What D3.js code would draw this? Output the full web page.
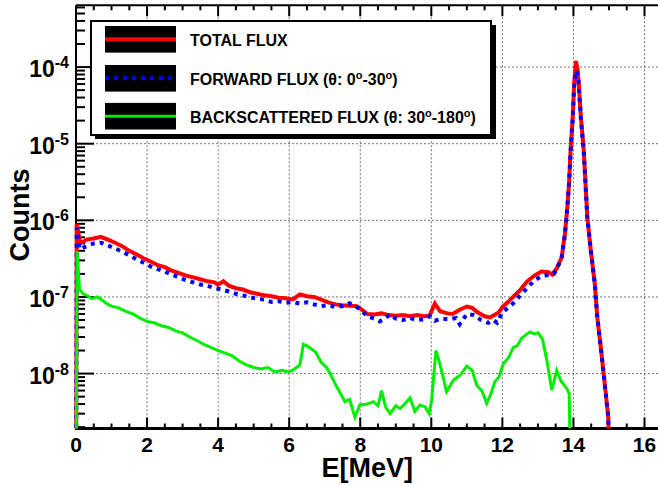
<!DOCTYPE html>
<html>
<head>
<meta charset="utf-8">
<script src="https://cdn.jsdelivr.net/npm/d3@7"></script>
<style>
  body { margin: 0; background: #fff; }
  text { font-family: "Liberation Sans", Arial, sans-serif; font-weight: bold; }
</style>
</head>
<body>
<div id="chart"></div>
<script>
// energy [MeV], counts
var totalFlux = [
  [0, 1e-10], [0.02, 9.0e-7], [0.12, 5.0e-7], [0.3, 5.6e-7], [0.5, 5.8e-7], [0.7, 6.1e-7],
  [0.9, 5.6e-7], [1.1, 5.1e-7], [1.3, 4.6e-7], [1.5, 4.0e-7], [1.7, 3.6e-7], [1.9, 3.2e-7],
  [2.1, 2.9e-7], [2.3, 2.6e-7], [2.5, 2.45e-7], [2.7, 2.2e-7], [2.9, 2.05e-7], [3.1, 1.9e-7],
  [3.3, 1.8e-7], [3.5, 1.7e-7], [3.7, 1.6e-7], [3.9, 1.55e-7], [4.0, 1.45e-7], [4.15, 1.6e-7],
  [4.3, 1.4e-7], [4.5, 1.3e-7], [4.7, 1.25e-7], [4.9, 1.15e-7], [5.1, 1.1e-7], [5.3, 1.05e-7],
  [5.5, 1.02e-7], [5.7, 9.8e-8], [5.9, 9.6e-8], [6.1, 9.3e-8], [6.3, 1.08e-7], [6.5, 1.02e-7],
  [6.7, 1.0e-7], [6.9, 9.2e-8], [7.1, 8.5e-8], [7.3, 8.0e-8], [7.5, 7.8e-8], [7.7, 7.7e-8],
  [7.9, 7.6e-8], [8.05, 6.8e-8], [8.2, 6.0e-8], [8.4, 5.9e-8], [8.6, 6.1e-8], [8.8, 5.8e-8],
  [9.0, 5.7e-8], [9.2, 5.8e-8], [9.4, 5.6e-8], [9.6, 5.8e-8], [9.8, 5.6e-8], [9.95, 5.7e-8],
  [10.1, 8.2e-8], [10.25, 6.5e-8], [10.45, 6.1e-8], [10.6, 6.0e-8], [10.8, 6.8e-8], [11.0, 7.5e-8],
  [11.15, 7.2e-8], [11.3, 6.3e-8], [11.5, 5.6e-8], [11.65, 5.4e-8], [11.8, 5.9e-8], [11.9, 6.3e-8],
  [12.0, 7.4e-8], [12.15, 8.5e-8], [12.3, 1.0e-7], [12.5, 1.23e-7], [12.7, 1.6e-7], [12.9, 1.9e-7],
  [13.1, 2.15e-7], [13.3, 2.1e-7], [13.4, 1.96e-7], [13.53, 2.36e-7], [13.67, 3.3e-7], [13.76, 6.7e-7],
  [13.83, 1.5e-6], [13.88, 3.3e-6], [13.92, 8.2e-6], [13.98, 2.2e-5], [14.02, 6.1e-5], [14.07, 1.2e-4],
  [14.12, 9.0e-5], [14.15, 6.1e-5], [14.21, 2.2e-5], [14.29, 8.2e-6], [14.34, 3.0e-6], [14.39, 1.1e-6],
  [14.49, 4.0e-7], [14.6, 1.5e-7], [14.67, 5.5e-8], [14.78, 2.0e-8], [14.88, 7.4e-9], [14.98, 2.7e-9],
  [15.05, 1e-10]
];

var forwardFlux = [
  [0, 1e-10], [0.02, 8.0e-7], [0.1, 4.2e-7], [0.3, 4.6e-7], [0.5, 5.0e-7], [0.7, 5.1e-7],
  [0.9, 4.7e-7], [1.1, 4.3e-7], [1.3, 3.9e-7], [1.5, 3.5e-7], [1.7, 3.1e-7], [1.9, 2.8e-7],
  [2.1, 2.5e-7], [2.3, 2.3e-7], [2.5, 2.15e-7], [2.7, 1.95e-7], [2.9, 1.8e-7], [3.1, 1.65e-7],
  [3.3, 1.55e-7], [3.5, 1.45e-7], [3.7, 1.4e-7], [3.9, 1.3e-7], [4.1, 1.25e-7], [4.3, 1.18e-7],
  [4.5, 1.1e-7], [4.7, 1.05e-7], [4.9, 9.8e-8], [5.1, 9.6e-8], [5.3, 9.2e-8], [5.5, 8.6e-8],
  [5.7, 8.8e-8], [5.9, 8.4e-8], [6.1, 8.6e-8], [6.3, 8.2e-8], [6.5, 8.5e-8], [6.7, 8.0e-8],
  [6.9, 7.6e-8], [7.1, 7.8e-8], [7.3, 7.4e-8], [7.5, 7.6e-8], [7.7, 8.3e-8], [7.9, 7.4e-8],
  [8.05, 6.5e-8], [8.2, 5.6e-8], [8.4, 5.2e-8], [8.55, 4.8e-8], [8.7, 5.3e-8], [8.85, 5.9e-8],
  [9.0, 5.2e-8], [9.2, 5.0e-8], [9.4, 5.3e-8], [9.6, 5.0e-8], [9.8, 5.1e-8], [9.95, 5.6e-8],
  [10.1, 4.9e-8], [10.3, 5.2e-8], [10.5, 5.1e-8], [10.7, 5.3e-8], [10.8, 4.4e-8], [11.0, 6.0e-8],
  [11.2, 5.8e-8], [11.4, 5.0e-8], [11.6, 4.6e-8], [11.75, 5.0e-8], [11.85, 4.6e-8], [12.0, 6.3e-8],
  [12.3, 8.2e-8], [12.6, 1.17e-7], [12.9, 1.65e-7], [13.1, 1.85e-7], [13.3, 1.95e-7], [13.45, 2.0e-7],
  [13.53, 2.3e-7], [13.67, 3.3e-7], [13.76, 6.5e-7], [13.83, 1.5e-6], [13.88, 3.2e-6], [13.92, 8.0e-6],
  [13.98, 2.1e-5], [14.02, 5.5e-5], [14.07, 9.0e-5], [14.12, 8.0e-5], [14.15, 5.8e-5], [14.21, 2.1e-5],
  [14.29, 8.0e-6], [14.34, 3.0e-6], [14.39, 1.1e-6], [14.49, 4.0e-7], [14.6, 1.5e-7], [14.67, 5.5e-8],
  [14.78, 2.0e-8], [14.88, 7.4e-9], [14.98, 2.7e-9], [15.05, 1e-10]
];

var backFlux = [
  [0, 1e-10], [0.03, 4.0e-7], [0.1, 1.25e-7], [0.2, 1.1e-7], [0.3, 1.05e-7], [0.45, 9.5e-8],
  [0.6, 1.0e-7], [0.75, 9.0e-8], [0.9, 8.0e-8], [1.0, 7.6e-8], [1.2, 7.2e-8], [1.4, 6.5e-8],
  [1.6, 6.0e-8], [1.8, 5.3e-8], [2.0, 4.8e-8], [2.2, 4.6e-8], [2.4, 4.2e-8], [2.6, 4.0e-8],
  [2.8, 3.6e-8], [3.0, 3.4e-8], [3.2, 3.0e-8], [3.4, 2.7e-8], [3.6, 2.4e-8], [3.8, 2.2e-8],
  [4.0, 2.0e-8], [4.2, 1.85e-8], [4.4, 1.7e-8], [4.6, 1.45e-8], [4.8, 1.3e-8], [5.0, 1.2e-8],
  [5.2, 1.15e-8], [5.4, 1.2e-8], [5.6, 1.05e-8], [5.8, 1.1e-8], [6.0, 1.05e-8], [6.15, 1.15e-8],
  [6.3, 1.3e-8], [6.4, 2.4e-8], [6.5, 2.3e-8], [6.6, 2.15e-8], [6.75, 1.9e-8], [6.9, 1.4e-8],
  [7.05, 1.2e-8], [7.15, 1.0e-8], [7.34, 6.7e-9], [7.57, 4.3e-9], [7.7, 4.6e-9], [7.85, 2.7e-9],
  [7.99, 3.9e-9], [8.2, 4.0e-9], [8.37, 4.3e-9], [8.5, 3.8e-9], [8.6, 6.0e-9], [8.72, 3.6e-9],
  [8.84, 3.0e-9], [9.0, 3.8e-9], [9.12, 3.5e-9], [9.25, 4.0e-9], [9.4, 4.8e-9], [9.54, 3.2e-9],
  [9.68, 3.9e-9], [9.82, 3.7e-9], [9.94, 3.0e-9], [10.01, 4.5e-9], [10.13, 2.0e-8], [10.24, 1.35e-8],
  [10.43, 5.8e-9], [10.62, 8.2e-9], [10.81, 9.5e-9], [11.0, 1.25e-8], [11.15, 1.1e-8], [11.28, 7.0e-9],
  [11.42, 6.0e-9], [11.56, 4.1e-9], [11.68, 5.5e-9], [11.79, 7.8e-9], [11.9, 9.0e-9], [12.03, 1.35e-8],
  [12.17, 1.6e-8], [12.31, 2.2e-8], [12.42, 2.3e-8], [12.54, 2.9e-8], [12.66, 3.2e-8], [12.78, 3.5e-8],
  [12.9, 3.3e-8], [13.01, 3.4e-8], [13.13, 2.8e-8], [13.25, 1.5e-8], [13.39, 6.1e-9], [13.53, 1.1e-8],
  [13.65, 8.0e-9], [13.81, 6.4e-9], [13.88, 5.5e-9], [13.95, 1e-10]
];

var xMajor = [0, 2, 4, 6, 8, 10, 12, 14, 16];
var yMajor = [1e-8, 1e-7, 1e-6, 1e-5, 1e-4];
var yLabels = ["-8", "-7", "-6", "-5", "-4"];
var legendLabels = ["TOTAL FLUX", "FORWARD FLUX", "BACKSCATTERED FLUX"];

var W = 658, H = 485;
var svg = d3.select("#chart").append("svg")
  .attr("width", W)
  .attr("height", H);

var x = d3.scaleLinear().domain([0, 16]).range([76, 644.5]);
var y = d3.scaleLog().domain([1.92e-9, 6.4e-4]).range([428.5, 5.3]);
var pLeft = 76, pRight = 700, pTop = 5.3, pBottom = 428.5;

// minor ticks
var xMinor = d3.range(0, 16.51, 0.5).filter(function(d) { return d % 2 !== 0; });
var yMinor = [];
for (var e = -9; e <= -4; e++) {
  for (var m = 2; m <= 9; m++) {
    var v = m * Math.pow(10, e);
    if (v > 1.92e-9 && v < 6.4e-4) yMinor.push(v);
  }
}

// grid
var grid = svg.append("g")
  .attr("stroke", "#707070")
  .attr("stroke-width", 1)
  .attr("stroke-dasharray", "2,2");
grid.selectAll(null).data(xMajor.slice(1)).enter().append("line")
  .attr("x1", function(d) { return x(d); }).attr("x2", function(d) { return x(d); })
  .attr("y1", pTop).attr("y2", pBottom);
grid.selectAll(null).data(yMajor).enter().append("line")
  .attr("x1", pLeft).attr("x2", pRight)
  .attr("y1", function(d) { return y(d); }).attr("y2", function(d) { return y(d); });

// frame + ticks
var axes = svg.append("g").attr("stroke", "#000");
axes.append("line").attr("x1", pLeft).attr("x2", pRight).attr("y1", pBottom).attr("y2", pBottom).attr("stroke-width", 3);
axes.append("line").attr("x1", pLeft).attr("x2", pRight).attr("y1", pTop).attr("y2", pTop).attr("stroke-width", 2);
axes.append("line").attr("x1", pLeft).attr("x2", pLeft).attr("y1", pTop).attr("y2", pBottom + 1.5).attr("stroke-width", 2);

function xTicks(data, len) {
  axes.selectAll(null).data(data).enter().append("line")
    .attr("x1", function(d) { return x(d); }).attr("x2", function(d) { return x(d); })
    .attr("y1", pBottom).attr("y2", pBottom - len).attr("stroke-width", 2);
  axes.selectAll(null).data(data).enter().append("line")
    .attr("x1", function(d) { return x(d); }).attr("x2", function(d) { return x(d); })
    .attr("y1", pTop).attr("y2", pTop + len).attr("stroke-width", 2);
}
xTicks(xMajor.slice(1), 11);
xTicks(xMinor, 5);

function yTicks(data, len) {
  axes.selectAll(null).data(data).enter().append("line")
    .attr("x1", pLeft).attr("x2", pLeft + len)
    .attr("y1", function(d) { return y(d); }).attr("y2", function(d) { return y(d); })
    .attr("stroke-width", 2);
}
yTicks(yMajor, 18);
yTicks(yMinor, 9);

// curves (drawn over the frame, like ROOT does)
svg.append("clipPath").attr("id", "plot")
  .append("rect").attr("x", pLeft - 3).attr("y", pTop).attr("width", pRight - pLeft + 3).attr("height", pBottom - pTop);

var line = d3.line()
  .x(function(d) { return x(d[0]); })
  .y(function(d) { return y(d[1]); });

var curves = svg.append("g").attr("clip-path", "url(#plot)").attr("fill", "none");
curves.append("path").datum(totalFlux)
  .attr("d", line).attr("stroke", "#ff0000").attr("stroke-width", 4);
curves.append("path").datum(forwardFlux)
  .attr("d", line).attr("stroke", "#0000ff").attr("stroke-width", 4)
  .attr("stroke-dasharray", "4,5");
curves.append("path").datum(backFlux)
  .attr("d", line).attr("stroke", "#00ee00").attr("stroke-width", 3);

// tick labels
svg.selectAll(null).data(xMajor).enter().append("text")
  .attr("x", function(d) { return x(d); })
  .attr("y", 452)
  .attr("text-anchor", "middle")
  .attr("font-size", 21)
  .text(function(d) { return d; });

svg.selectAll(null).data(yMajor).enter().append("text")
  .attr("x", 69)
  .attr("y", function(d) { return y(d) + 10; })
  .attr("text-anchor", "end")
  .attr("font-size", 23)
  .each(function(d, i) {
    var t = d3.select(this);
    t.append("tspan").text("10");
    t.append("tspan").attr("dy", -9).attr("font-size", 16).text(yLabels[i]);
  });

// axis titles
svg.append("text")
  .attr("x", 413).attr("y", 477)
  .attr("text-anchor", "end")
  .attr("font-size", 27)
  .text("E[MeV]");
svg.append("text")
  .attr("transform", "translate(29,215) rotate(-90)")
  .attr("text-anchor", "middle")
  .attr("font-size", 27)
  .text("Counts");

// legend
var lg = svg.append("g");
lg.append("rect").attr("x", 95).attr("y", 25).attr("width", 401).attr("height", 114).attr("fill", "#000");
lg.append("rect").attr("x", 91).attr("y", 21).attr("width", 400).attr("height", 114)
  .attr("fill", "#fff").attr("stroke", "#000").attr("stroke-width", 2);

var rowY = [39.3, 78.3, 116.2];
var legendStyle = [
  { color: "#ff0000", width: 4, dash: null },
  { color: "#0000ff", width: 4, dash: "4,5" },
  { color: "#00ee00", width: 3, dash: null }
];
rowY.forEach(function(cy, i) {
  lg.append("rect").attr("x", 105).attr("y", cy - 13.3).attr("width", 71).attr("height", 26.6).attr("fill", "#000");
  lg.append("line").attr("x1", 105).attr("x2", 176).attr("y1", cy).attr("y2", cy)
    .attr("stroke", legendStyle[i].color).attr("stroke-width", legendStyle[i].width)
    .attr("stroke-dasharray", legendStyle[i].dash);
  var t = lg.append("text").attr("x", 190).attr("y", cy + 6.5).attr("font-size", 16);
  t.append("tspan").text(legendLabels[i]);
  if (i === 1) {
    t.append("tspan").text(" (\u03b8: 0");
    t.append("tspan").attr("dy", -6).attr("font-size", 11).text("o");
    t.append("tspan").attr("dy", 6).text("-30");
    t.append("tspan").attr("dy", -6).attr("font-size", 11).text("o");
    t.append("tspan").attr("dy", 6).text(")");
  }
  if (i === 2) {
    t.append("tspan").text(" (\u03b8: 30");
    t.append("tspan").attr("dy", -6).attr("font-size", 11).text("o");
    t.append("tspan").attr("dy", 6).text("-180");
    t.append("tspan").attr("dy", -6).attr("font-size", 11).text("o");
    t.append("tspan").attr("dy", 6).text(")");
  }
});
</script>
</body>
</html>
